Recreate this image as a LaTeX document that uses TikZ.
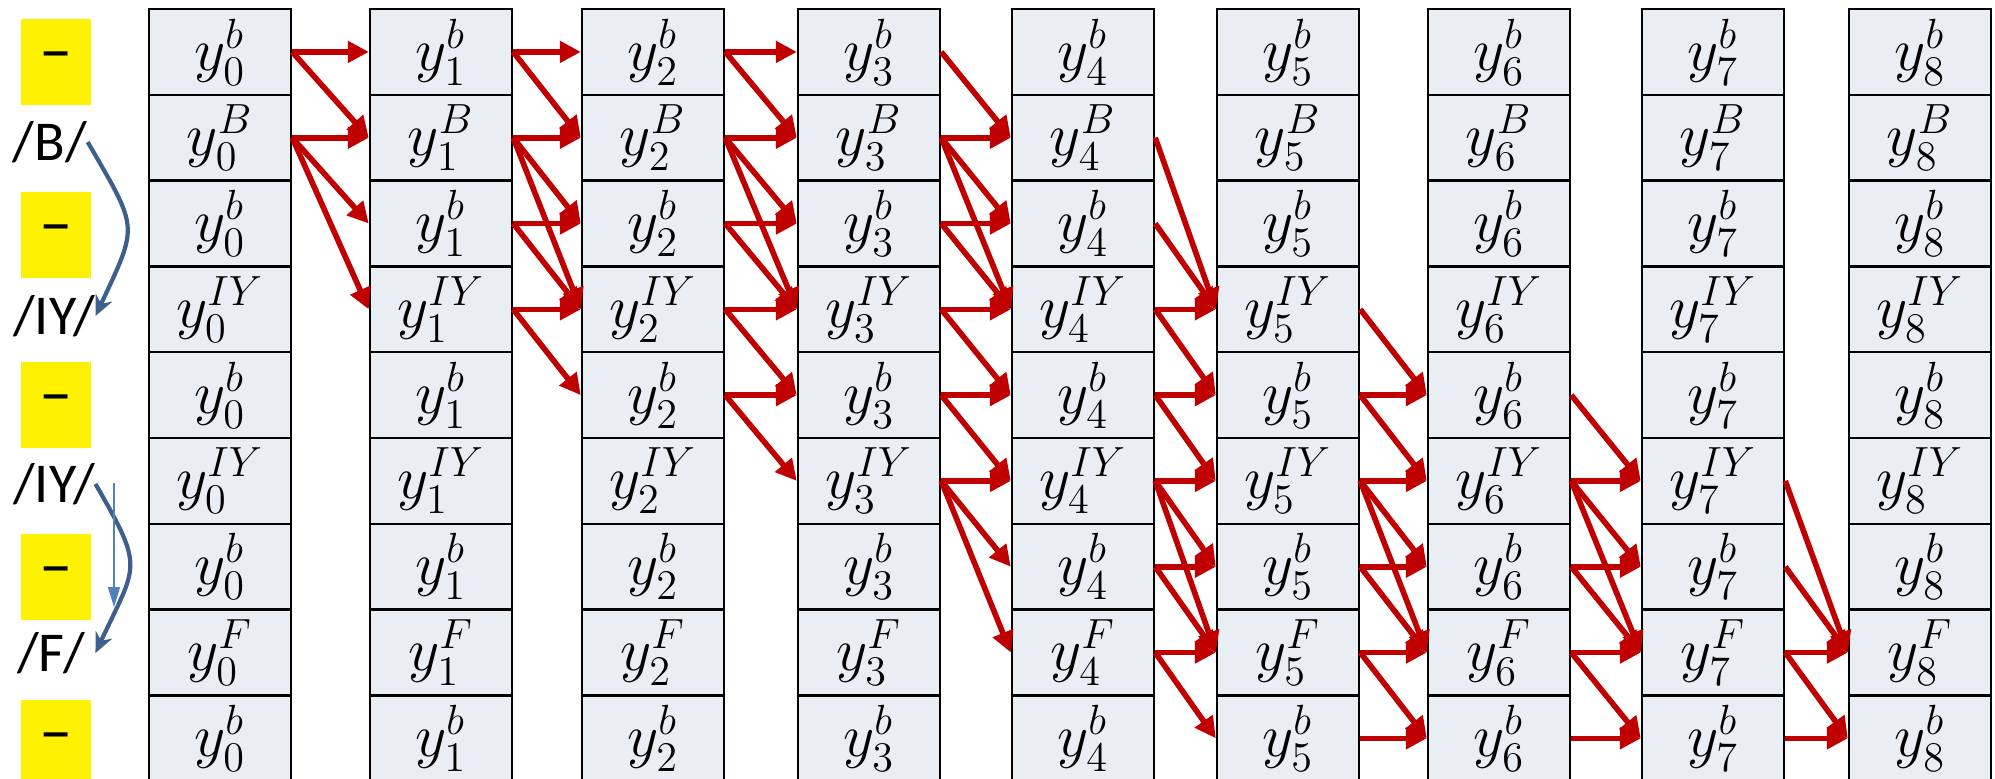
\documentclass[tikz,border=0pt]{standalone}
\usepackage[no-math]{fontspec}
\newfontfamily\phonefont{Carlito}
\usepackage{tikz}
\usetikzlibrary{arrows.meta,positioning,calc}
\definecolor{cellbg}{HTML}{E9EDF4}
\definecolor{trred}{HTML}{C00000}
\definecolor{curveblue}{HTML}{3C5F8D}
\definecolor{thinblue}{HTML}{4F81BD}

\begin{document}
\begin{tikzpicture}[>=Stealth,
  cell/.style={draw=black,line width=0.7pt,fill=cellbg,minimum width=1.42cm,minimum height=0.858cm,inner sep=0pt,font=\fontsize{18}{20}\selectfont},
  blank/.style={fill=yellow,minimum width=0.70cm,minimum height=0.86cm,inner sep=0pt,font=\phonefont\fontsize{19}{22}\selectfont},
  phone/.style={inner sep=0pt,font=\phonefont\fontsize{16}{18}\selectfont},
  trans/.style={trred,line width=1.6pt,-{Triangle[length=0.21cm,width=0.21cm]}},
  skip/.style={curveblue,line width=1.2pt,-{Stealth[length=0.2cm,width=0.18cm]}}]
 \useasboundingbox (0,0) rectangle (19.95,-7.78);
 \clip (0,0) rectangle (19.95,-7.78);
 % --- label column ---
 \foreach \r/\yy in {0/0.62,2/2.35,4/4.05,6/5.77,8/7.43} \node[blank] (bl\r) at (0.56,-\yy) {\char"2013};
 \foreach \r/\s/\xx/\yy in {1/B/0.50/1.42,3/IY/0.54/3.16,5/IY/0.54/4.84,7/F/0.51/6.53} \node[phone] (ph\r) at (\xx,-\yy) {/\s/};
 \draw[skip] (ph1.east) to[out=-60,in=65,looseness=1.5] (ph3.east);
 \draw[skip] (ph5.east) to[out=-60,in=65,looseness=1.5] ([xshift=0.1cm]ph7.east);
 \coordinate (thinA) at (1.14,-4.83);
 \coordinate (thinB) at (1.14,-6.07);
 \draw[thinblue,line width=0.5pt,-{Triangle[length=0.2cm,width=0.12cm]}] (thinA) -- (thinB);
 % --- trellis columns ---
 \foreach \c/\x in {0/1.49,1/3.70,2/5.82,3/7.98,4/10.12,5/12.17,6/14.28,7/16.42,8/18.49}
   \foreach \r/\s in {0/b,1/B,2/b,3/IY,4/b,5/IY,6/b,7/F,8/b}
     \node[cell] (y\c-\r) at ({\x+0.71},{-0.09-0.858*(\r+0.5)}) {$y_{\c}^{\s}$};
 % --- transitions ---
 % t=0 -> t=1
 \foreach \a/\b in {0/0,0/1,1/1,1/2,1/3} \draw[trans] (y0-\a.east) -- (y1-\b.west);
 % t=1 -> t=2
 \foreach \a/\b in {0/0,0/1,1/1,1/2,1/3,2/2,2/3,3/3,3/4} \draw[trans] (y1-\a.east) -- (y2-\b.west);
 % t=2 -> t=3
 \foreach \a/\b in {0/0,0/1,1/1,1/2,1/3,2/2,2/3,3/3,3/4,4/4,4/5} \draw[trans] (y2-\a.east) -- (y3-\b.west);
 % t=3 -> t=4
 \foreach \a/\b in {0/1,1/1,1/2,1/3,2/2,2/3,3/3,3/4,4/4,4/5,5/5,5/6,5/7} \draw[trans] (y3-\a.east) -- (y4-\b.west);
 % t=4 -> t=5
 \foreach \a/\b in {1/3,2/3,3/3,3/4,4/4,4/5,5/5,5/6,5/7,6/6,6/7,7/7,7/8} \draw[trans] (y4-\a.east) -- (y5-\b.west);
 % t=5 -> t=6
 \foreach \a/\b in {3/4,4/4,4/5,5/5,5/6,5/7,6/6,6/7,7/7,7/8,8/8} \draw[trans] (y5-\a.east) -- (y6-\b.west);
 % t=6 -> t=7
 \foreach \a/\b in {4/5,5/5,5/6,5/7,6/6,6/7,7/7,7/8,8/8} \draw[trans] (y6-\a.east) -- (y7-\b.west);
 % t=7 -> t=8
 \foreach \a/\b in {5/7,6/7,7/7,7/8,8/8} \draw[trans] (y7-\a.east) -- (y8-\b.west);
\end{tikzpicture}
\end{document}
